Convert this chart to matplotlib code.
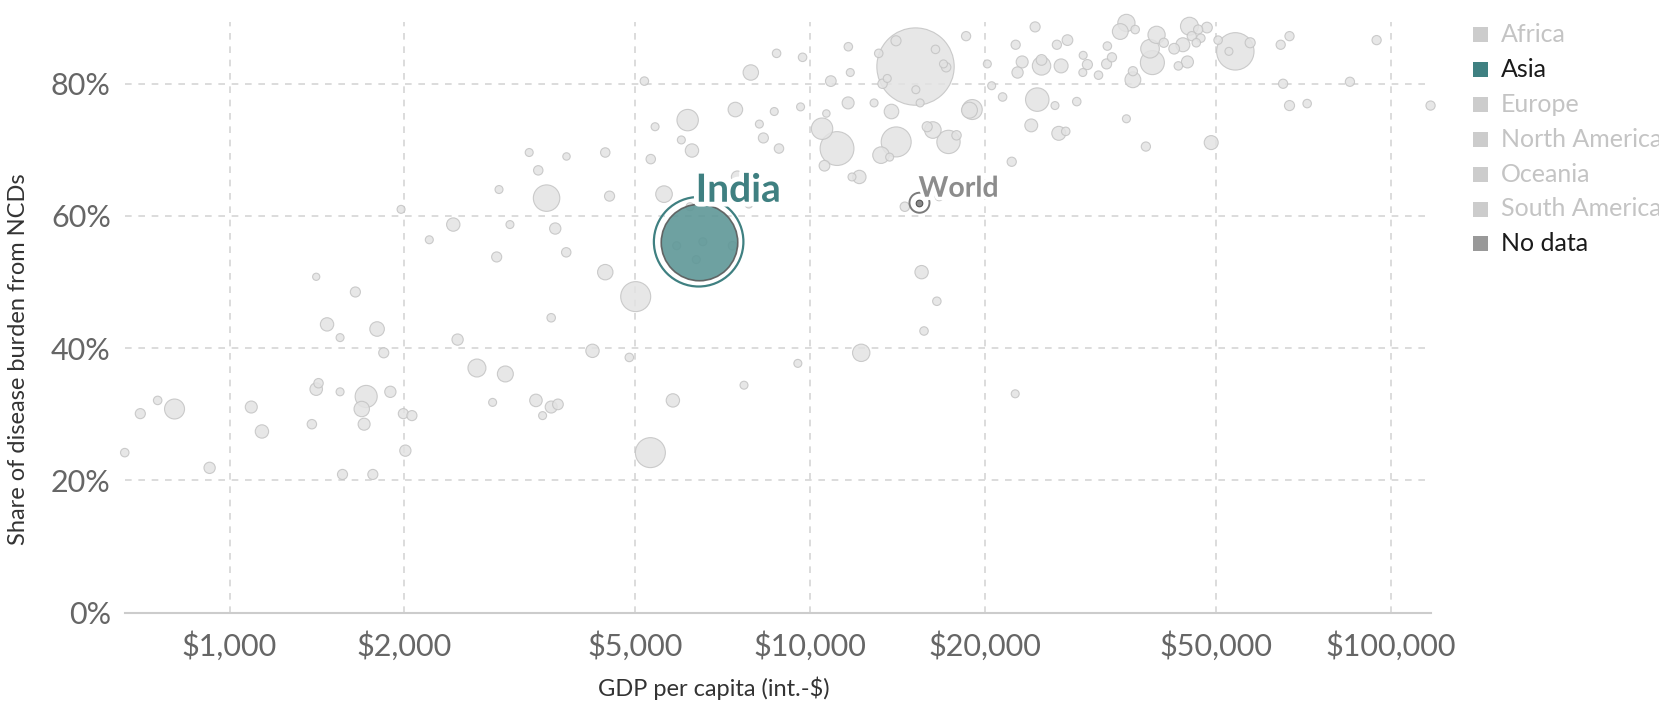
import numpy as np
import matplotlib.pyplot as plt
import matplotlib.patheffects as pe
from matplotlib.patches import Rectangle
from matplotlib.ticker import FixedLocator, FuncFormatter, NullLocator

plt.rcParams['font.family'] = ['Lato', 'DejaVu Sans']

# countries (grey bubbles): GDP per capita, NCD share (%), population (millions)
gdp = [3281, 3804, 3401, 2911, 3515, 1974, 2428, 3040, 3638, 2208,
       2884, 3800, 1410, 1647, 1472, 1795, 1550, 1843, 2470, 3580,
       2667, 2985, 1423, 1410, 1550, 1719, 1689, 1892, 1705, 1386,
       1992, 2061, 2008, 1565, 1765, 1090, 1137, 804, 702, 752,
       660, 924, 2838, 3370, 3580, 3677, 3460, 4217, 4880, 5005,
       5305, 5800, 7690, 9520, 12240, 15700, 16520, 22540, 7900, 5180,
       10850, 11720, 16960, 17140, 13570, 13320, 15200, 15460, 20180, 20530,
       19010, 18800, 7431, 9623, 8670, 6150, 5405, 11620, 12880, 13800,
       10660, 10480, 11120, 8173, 8304, 8834, 5998, 6256, 5313, 4436,
       14060, 13240, 13700, 16260, 15900, 17300, 17860, 10580, 12150, 11800,
       5600, 4512, 7491, 7837, 14550, 16670, 4436, 15550, 5888, 6532,
       6364, 7347, 6208, 8750, 9700, 11630, 15180, 14050, 13120, 16430,
       18550, 21440, 22230, 24390, 22580, 23170, 22750, 25020, 25020, 27040,
       26590, 27730, 24600, 26390, 28770, 24020, 26790, 27540, 29510, 30010,
       29470, 31360, 32480, 33080, 32380, 35030, 34190, 36270, 35940, 35940,
       35030, 37840, 39480, 38470, 38830, 40630, 42330, 43040, 44620, 43820,
       44980, 45390, 46560, 47060, 46210, 48210, 50390, 53950, 52600, 57220,
       49030, 64580, 66880, 65200, 66880, 71730, 84980, 94470, 117000]
share = [69.6, 69.0, 66.9, 64.0, 62.7, 61.0, 58.7, 58.7, 58.1, 56.4,
         53.8, 54.5, 50.8, 48.5, 43.6, 42.9, 41.6, 39.3, 41.3, 44.6,
         37.0, 36.1, 34.7, 33.8, 33.4, 32.7, 30.8, 33.4, 28.5, 28.5,
         30.1, 29.8, 24.5, 20.9, 20.9, 31.1, 27.4, 30.8, 30.1, 32.1,
         24.2, 21.9, 31.8, 32.1, 31.1, 31.5, 29.8, 39.6, 38.6, 47.8,
         24.2, 32.1, 34.4, 37.7, 39.3, 42.6, 47.1, 33.1, 81.7, 80.4,
         80.4, 81.7, 83.0, 82.5, 80.8, 80.0, 79.1, 77.1, 83.0, 79.7,
         76.1, 76.0, 76.1, 76.5, 75.8, 74.5, 73.5, 77.1, 77.1, 75.8,
         75.5, 73.2, 70.2, 73.9, 71.8, 70.2, 71.5, 69.9, 68.6, 69.6,
         71.2, 69.2, 68.9, 73.0, 73.5, 71.2, 72.2, 67.6, 65.9, 65.9,
         63.3, 63.0, 65.9, 61.8, 61.4, 62.9, 51.5, 51.5, 55.5, 56.1,
         53.4, 55.5, 61.4, 84.6, 84.0, 85.6, 82.6, 86.5, 84.6, 85.2,
         87.2, 78.0, 68.2, 88.6, 85.9, 83.3, 81.7, 83.6, 82.7, 82.7,
         85.9, 86.6, 77.6, 76.7, 77.3, 73.7, 72.5, 72.8, 84.3, 82.9,
         81.7, 81.3, 85.7, 84.0, 83.0, 89.2, 87.9, 88.2, 81.9, 80.6,
         74.7, 70.5, 87.4, 85.3, 83.2, 86.2, 85.3, 82.7, 83.3, 85.9,
         88.7, 87.2, 88.2, 86.9, 86.2, 88.5, 86.6, 84.9, 84.9, 86.2,
         71.1, 85.9, 87.2, 80.0, 76.7, 77.0, 80.3, 86.6, 76.7]
pop = [15, 13, 21, 15, 165, 15, 42, 15, 30, 15,
       24, 21, 10, 24, 42, 50, 15, 24, 30, 17,
       76, 60, 21, 37, 15, 115, 56, 30, 34, 21,
       24, 24, 30, 24, 24, 34, 42, 94, 24, 17,
       17, 30, 15, 37, 34, 27, 15, 42, 17, 212,
       212, 42, 15, 15, 71, 17, 17, 15, 56, 17,
       27, 15, 15, 21, 15, 21, 15, 15, 15, 15,
       94, 60, 50, 15, 15, 108, 15, 34, 15, 50,
       13, 108, 270, 15, 24, 21, 15, 42, 21, 21,
       212, 65, 15, 65, 24, 128, 21, 27, 42, 15,
       65, 24, 34, 15, 21, 15, 56, 42, 15, 15,
       15, 17, 15, 17, 17, 17, 1410, 24, 17, 17,
       20, 17, 20, 24, 20, 34, 30, 27, 80, 46,
       20, 27, 130, 15, 17, 39, 46, 17, 15, 24,
       15, 17, 17, 20, 24, 70, 59, 17, 20, 59,
       15, 20, 70, 82, 136, 20, 27, 17, 34, 46,
       76, 20, 20, 17, 17, 27, 17, 330, 15, 24,
       46, 20, 20, 20, 24, 17, 20, 20, 20]

india_gdp, india_share, india_pop = 6424, 56.1, 1380
world_gdp, world_share = 15420, 62.0

legend_labels = ['Africa', 'Asia', 'Europe', 'North America', 'Oceania',
                 'South America', 'No data']
legend_colors = ['#cccccc', '#3f8081', '#cccccc', '#cccccc', '#cccccc',
                 '#cccccc', '#999999']
legend_text_colors = ['#c4c4c4', '#1a1a1a', '#c4c4c4', '#c4c4c4', '#c4c4c4',
                      '#c4c4c4', '#1a1a1a']

DPI = 100


def bubble_area(p):
    r = np.maximum(3.6, 1.03 * np.sqrt(np.asarray(p, dtype=float)))
    return (2 * r * 72 / DPI) ** 2


fig = plt.figure(figsize=(16.59, 7.07), dpi=DPI)
ax = fig.add_axes([0.0752, 0.1335, 0.7871, 0.835])

gdp_a = np.array(gdp)
share_a = np.array(share)
pop_a = np.array(pop)
order = np.argsort(-pop_a)
ax.scatter(gdp_a[order], share_a[order], s=bubble_area(pop_a[order]),
           facecolor='#e3e3e3', edgecolor='#c3c3c3', linewidth=0.8,
           alpha=0.85, zorder=3, clip_on=False)

# India highlight
ax.scatter([india_gdp], [india_share], s=bubble_area([india_pop]),
           facecolor='#5e9797', edgecolor='#5a5a5a', linewidth=1.2,
           alpha=0.9, zorder=4)
ring_r = 1.03 * np.sqrt(india_pop) + 6.5
ax.scatter([india_gdp], [india_share], s=(2 * ring_r * 72 / DPI) ** 2,
           facecolor='none', edgecolor='#3f8081', linewidth=1.6, zorder=4)
ax.annotate('India', xy=(india_gdp, india_share), xytext=(-3, 40),
            textcoords='offset pixels', ha='left', va='baseline',
            fontsize=28, fontweight='bold', color='#3f8081', zorder=6,
            path_effects=[pe.withStroke(linewidth=7, foreground='white')])

# World marker
ax.scatter([world_gdp], [world_share], s=(2 * 3.3 * 72 / DPI) ** 2,
           facecolor='#8a8a8a', edgecolor='#555555', linewidth=0.8, zorder=5)
ax.scatter([world_gdp], [world_share], s=(2 * 10 * 72 / DPI) ** 2,
           facecolor='none', edgecolor='#7a7a7a', linewidth=1.4, zorder=5)
ax.annotate('World', xy=(world_gdp, world_share), xytext=(-1, 6),
            textcoords='offset pixels', ha='left', va='baseline',
            fontsize=20.5, fontweight='bold', color='#8c8c8c', zorder=6,
            path_effects=[pe.withStroke(linewidth=5, foreground='white')])

ax.set_xscale('log')
ax.set_xlim(660, 117000)
ax.set_ylim(0, 89.3)

xt = [1000, 2000, 5000, 10000, 20000, 50000, 100000]
ax.xaxis.set_major_locator(FixedLocator(xt))
ax.xaxis.set_minor_locator(NullLocator())
ax.xaxis.set_major_formatter(FuncFormatter(lambda v, p: '${:,.0f}'.format(v)))
ax.yaxis.set_major_locator(FixedLocator([0, 20, 40, 60, 80]))
ax.yaxis.set_major_formatter(FuncFormatter(lambda v, p: '{:.0f}%'.format(v)))

ax.grid(True, color='#d6d6d6', linestyle=(0, (4, 4)), linewidth=1.2, zorder=0)
ax.set_axisbelow(True)
for s in ['top', 'right', 'left']:
    ax.spines[s].set_visible(False)
ax.spines['bottom'].set_color('#cccccc')
ax.spines['bottom'].set_linewidth(1.5)
ax.spines['bottom'].set_zorder(2)
ax.tick_params(axis='both', length=0, labelsize=22, colors='#666666')
ax.tick_params(axis='x', pad=13)
ax.tick_params(axis='y', pad=10)

ax.set_xlabel('GDP per capita (int.-$)', fontsize=17, color='#333333')
ax.set_ylabel('Share of disease burden from NCDs', fontsize=17, color='#333333')
ax.xaxis.set_label_coords(0.451, -0.108)
ax.yaxis.set_label_coords(-0.073, 0.43)

# legend drawn by hand at the right
for i, (lab, c, tc) in enumerate(zip(legend_labels, legend_colors, legend_text_colors)):
    yc = 1 - (34.5 + 34.9 * i) / 707
    fig.patches.append(Rectangle((1473 / 1659, yc - 7.5 / 707), 15 / 1659, 15 / 707,
                                 transform=fig.transFigure, facecolor=c,
                                 edgecolor='none'))
    fig.text(1501 / 1659, yc, lab, fontsize=18, color=tc, va='center', ha='left')

fig.savefig('out.png', dpi=DPI)
